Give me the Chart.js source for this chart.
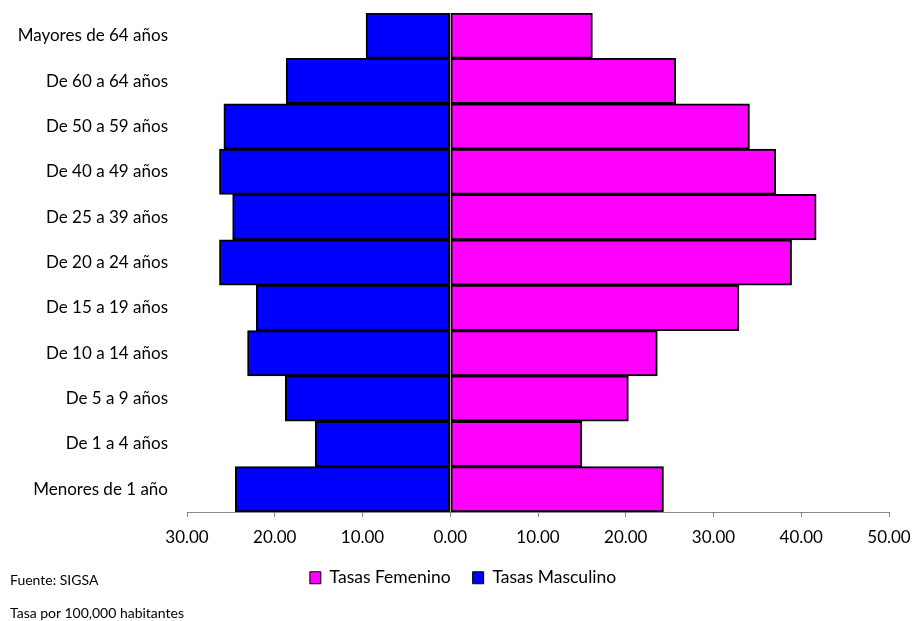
<!DOCTYPE html>
<html>
<head>
<meta charset="utf-8">
<script src="https://cdn.jsdelivr.net/npm/chart.js@4/dist/chart.umd.min.js"></script>
<style>
  html, body { margin: 0; padding: 0; background: #fff; }
  #wrap { position: relative; width: 912px; height: 621px; }
  canvas { position: absolute; left: 0; top: 0; }
  .note { position: absolute; left: 10px; font-family: Lato, "Liberation Sans", sans-serif; font-size: 14px; color: #000; line-height: 16px; }
</style>
</head>
<body>
<div id="wrap">
  <canvas id="c" width="912" height="621"></canvas>
  <div class="note" style="top:572px">Fuente: SIGSA</div>
  <div class="note" style="top:605px">Tasa por 100,000 habitantes</div>
</div>
<script>
const categories = ["Mayores de 64 años","De 60 a 64 años","De 50 a 59 años","De 40 a 49 años","De 25 a 39 años","De 20 a 24 años","De 15 a 19 años","De 10 a 14 años","De 5 a 9 años","De 1 a 4 años","Menores de 1 año"];
const tasasFemenino = [16.2, 25.7, 34.1, 37.1, 41.7, 38.9, 32.9, 23.6, 20.3, 15.0, 24.3];
const tasasMasculino = [9.6, 18.7, 25.8, 26.3, 24.8, 26.3, 22.1, 23.1, 18.8, 15.4, 24.5];
const axisMin = -30, axisMax = 50, axisStep = 10;

const FONT = "Lato, 'Liberation Sans', sans-serif";

new Chart(document.getElementById('c'), {
  type: 'bar',
  data: {
    labels: categories,
    datasets: [
      { label: 'Tasas Femenino', data: tasasFemenino, backgroundColor: '#FF00FF', borderColor: '#000', borderWidth: 2, borderSkipped: false },
      { label: 'Tasas Masculino', data: tasasMasculino.map(v => -v), backgroundColor: '#0000FF', borderColor: '#000', borderWidth: 2, borderSkipped: false }
    ]
  },
  options: {
    indexAxis: 'y',
    responsive: false,
    animation: false,
    barPercentage: 1,
    categoryPercentage: 1,
    layout: { padding: { left: 14, right: 0, top: 13, bottom: 24.5 } },
    scales: {
      x: {
        stacked: true,
        min: axisMin, max: axisMax,
        ticks: { stepSize: axisStep, color: '#000', font: { family: FONT, size: 17 }, padding: 10,
                 callback: v => Math.abs(v).toFixed(2) },
        grid: { display: true, drawOnChartArea: false, drawTicks: true, tickLength: 5, color: '#888' },
        border: { display: true, color: '#888', width: 1 },
        afterFit: s => { s.height = 35; s.paddingLeft = 0; s.paddingRight = 23; }
      },
      y: {
        stacked: true,
        ticks: { color: '#000', font: { family: FONT, size: 17 }, padding: 19 },
        grid: { display: false, drawTicks: false, tickLength: 0 },
        border: { display: false },
        afterFit: s => { s.width = 173; s.paddingTop = 0; s.paddingBottom = 0; }
      }
    },
    plugins: {
      legend: {
        position: 'bottom',
        labels: {
          color: '#000', font: { family: FONT, size: 17.5 }, boxWidth: 11, boxHeight: 12, padding: 22,
          generateLabels: chart => Chart.defaults.plugins.legend.labels.generateLabels(chart).map(l => Object.assign(l, { lineWidth: 1 }))
        }
      },
      tooltip: { enabled: false }
    }
  }
});
</script>
</body>
</html>
